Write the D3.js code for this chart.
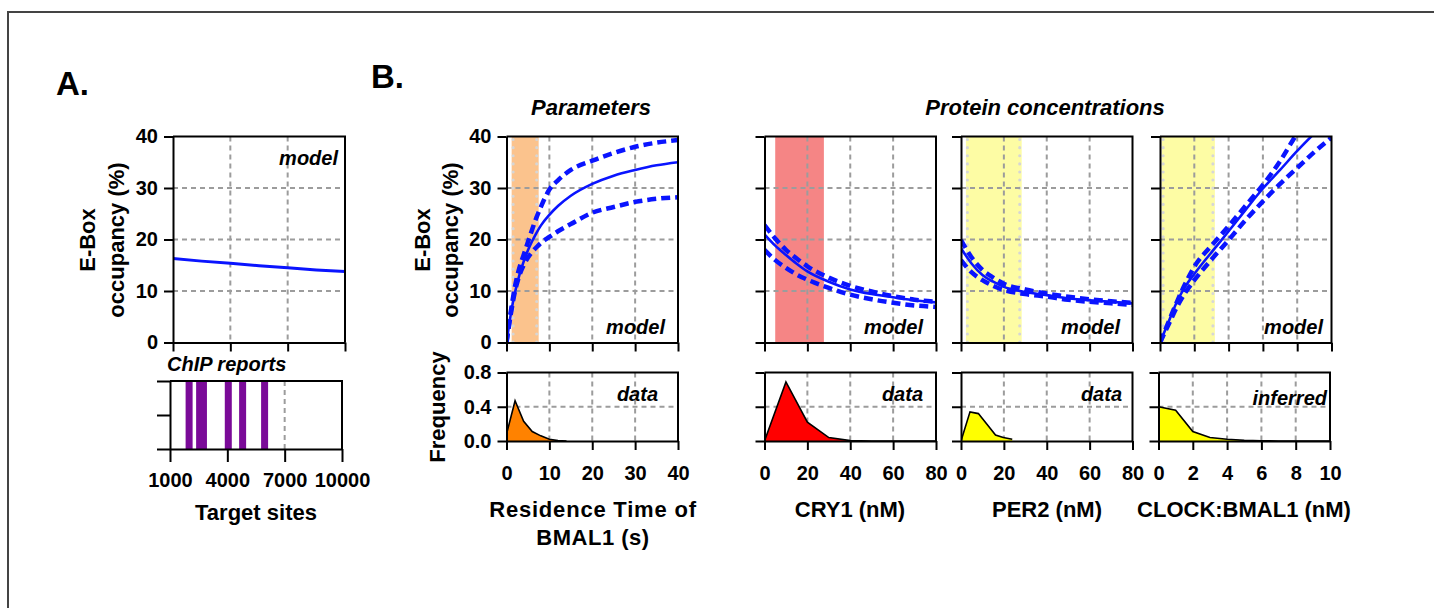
<!DOCTYPE html>
<html><head><meta charset="utf-8">
<script src="https://cdn.jsdelivr.net/npm/d3@7"></script>
<style>
body{margin:0;background:#fff;}
svg text{font-family:"Liberation Sans",Arial,sans-serif;font-weight:bold;fill:#000;}
.tick text{font-size:20px;}
.grid{stroke:#9c9c9c;stroke-width:2;stroke-dasharray:5,4;}
.ax path,.ax line{stroke:#000;stroke-width:2;}
</style></head><body>
<svg id="c" width="1434" height="608"></svg>
<script>
// ---------------- DATA ----------------
// Panel A: model occupancy vs number of target sites
const targetSites = [1000, 2500, 4000, 5500, 7000, 8500, 10000];
const occupancyA  = [16.3, 15.8, 15.4, 14.9, 14.5, 14.1, 13.8];
const chipReports = [2000, 2550, 2750, 4050, 4800, 5950];
const aTicks = [1000, 4000, 7000, 10000];

// Parameters: residence time of BMAL1 (s)
const resTime   = [0, 1, 2, 3, 4, 5, 6, 7, 8, 10, 12, 15, 20, 25, 30, 35, 40];
const resSolid  = [0, 5.5, 9.8, 13.1, 15.7, 17.9, 19.7, 21.3, 22.7, 24.8, 26.5, 28.5, 30.8, 32.4, 33.5, 34.4, 35.0];
const resUpper  = [0, 6.0, 11.0, 14.5, 17.0, 19.5, 22.0, 24.3, 26.3, 29.7, 31.5, 33.5, 35.3, 36.8, 38.0, 38.8, 39.3];
const resLower  = [0, 5.5, 10.0, 13.0, 15.0, 16.5, 17.6, 18.5, 19.3, 20.5, 21.6, 23.0, 25.2, 26.3, 27.3, 27.9, 28.2];
const resBand   = [1.2, 7.5];
const resHistX  = [0, 2, 4, 6, 8, 10, 12, 14];
const resHistY  = [0.08, 0.47, 0.23, 0.11, 0.06, 0.02, 0.005, 0];

// CRY1 (nM)
const cryX      = [0, 5, 10, 15, 20, 30, 40, 50, 60, 70, 80];
const crySolid  = [21.0, 18.8, 17.0, 15.3, 13.8, 11.8, 10.3, 9.4, 8.8, 8.2, 7.8];
const cryUpper  = [22.8, 20.2, 18.0, 16.3, 14.8, 12.6, 11.0, 9.9, 9.0, 8.3, 7.9];
const cryLower  = [18.0, 16.0, 14.5, 13.2, 12.2, 10.6, 9.3, 8.4, 7.7, 7.2, 6.9];
const cryBand   = [5, 27.7];
const cryHistX  = [0, 10, 20, 30, 40, 50, 60, 70, 80];
const cryHistY  = [0, 0.69, 0.22, 0.04, 0.005, 0, 0, 0, 0];

// PER2 (nM)
const perX      = [0, 5, 10, 15, 20, 30, 40, 50, 60, 70, 80];
const perSolid  = [18.3, 15.3, 13.1, 11.8, 10.8, 9.8, 9.2, 8.6, 8.2, 7.9, 7.6];
const perUpper  = [19.9, 16.5, 14.1, 12.6, 11.4, 10.3, 9.5, 8.9, 8.4, 8.0, 7.7];
const perLower  = [16.0, 13.6, 12.1, 11.0, 10.2, 9.4, 8.9, 8.3, 7.9, 7.6, 7.3];
const perBand   = [2.3, 28.3];
const perHistX  = [0, 4.2, 8.1, 12.3, 16.1, 19.7, 23.9];
const perHistY  = [0, 0.34, 0.32, 0.19, 0.07, 0.04, 0.02];

// CLOCK:BMAL1 (nM)
const clkX      = [0, 0.5, 1, 1.5, 2, 3, 4, 5, 6, 7, 8, 9, 10];
const clkSolid  = [0, 4.0, 8.0, 11.0, 13.3, 17.5, 21.6, 25.8, 29.9, 33.5, 37.2, 40.6, 43.8];
const clkUpper  = [0, 4.0, 8.0, 11.6, 14.7, 18.8, 22.6, 26.6, 30.6, 35.2, 40.6, 45.0, 49.0];
const clkLower  = [0, 3.5, 7.0, 9.8, 12.1, 16.1, 19.9, 23.8, 27.4, 30.8, 33.9, 37.0, 39.8];
const clkBand   = [0.1, 3.2];
const clkHistX  = [0, 1, 2, 3, 4, 5, 6, 7, 8, 9, 10];
const clkHistY  = [0.40, 0.36, 0.11, 0.04, 0.02, 0.008, 0.003, 0, 0, 0, 0];

const occTicks  = [0, 10, 20, 30, 40];
const freqTicks = [0, 0.4, 0.8];
const resTicks  = [0, 10, 20, 30, 40];
const concTicks = [0, 20, 40, 60, 80];
const clkTicks  = [0, 2, 4, 6, 8, 10];

// ---------------- DRAW ----------------
const svg = d3.select("#c");
const defs = svg.append("defs");
const BLUE = "#0a14ff";

// outer frame
svg.append("path").attr("d","M8,608V12H1434").attr("fill","none").attr("stroke","#444").attr("stroke-width",2);

function panel(c){
  const x = d3.scaleLinear().domain(c.xDomain).range([c.left, c.right]);
  const y = d3.scaleLinear().domain(c.yDomain).range([c.bottom, c.top]);
  defs.append("clipPath").attr("id", c.id).append("rect")
    .attr("x", c.left).attr("y", c.top).attr("width", c.right - c.left).attr("height", c.bottom - c.top);
  const g = svg.append("g");
  const band = g.append("g"), grid = g.append("g"), data = g.append("g").attr("clip-path", `url(#${c.id})`), axes = g.append("g");
  grid.selectAll("line.v").data(c.xGrid || []).join("line").attr("class","grid")
    .attr("x1", d => x(d)).attr("x2", d => x(d)).attr("y1", c.top).attr("y2", c.bottom);
  grid.selectAll("line.h").data(c.yGrid || []).join("line").attr("class","grid")
    .attr("y1", d => y(d)).attr("y2", d => y(d)).attr("x1", c.left).attr("x2", c.right);
  const ax = d3.axisBottom(x).tickValues(c.xTicks).tickSize(c.xTick || 9).tickSizeOuter(0).tickPadding(c.xPad || 16)
    .tickFormat(c.showX ? (c.xFmt || d3.format("d")) : "");
  axes.append("g").attr("class","ax").attr("transform", `translate(0,${c.bottom})`).call(ax);
  const ay = d3.axisLeft(y).tickValues(c.yTicks).tickSize(c.yTick || 9).tickSizeOuter(0).tickPadding(6)
    .tickFormat(c.showY ? (c.yFmt || d3.format("d")) : "");
  axes.append("g").attr("class","ax").attr("transform", `translate(${c.left},0)`).call(ay);
  axes.append("path").attr("d", `M${c.left},${c.top}H${c.right}V${c.bottom}`)
    .attr("fill","none").attr("stroke","#000").attr("stroke-width",2);
  return {x, y, band, data, axes, c};
}

function drawBand(p, range, color, dots){
  p.band.append("rect").attr("x", p.x(range[0])).attr("width", p.x(range[1]) - p.x(range[0]))
    .attr("y", p.c.top).attr("height", p.c.bottom - p.c.top).attr("fill", color);
  if (dots){
    p.band.selectAll("line.dot").data(range).join("line")
      .attr("x1", (d,i) => p.x(d) + (i ? -2 : 1.5)).attr("x2", (d,i) => p.x(d) + (i ? -2 : 1.5))
      .attr("y1", p.c.top + 3).attr("y2", p.c.bottom)
      .attr("stroke", "#d6d6d6").attr("stroke-width", 3).attr("stroke-linecap","round").attr("stroke-dasharray","0.1,8");
  }
}

function drawCurves(p, xs, solid, upper, lower){
  const line = d3.line().x(d => p.x(d[0])).y(d => p.y(d[1])).curve(d3.curveMonotoneX);
  [upper, lower].forEach(arr => {
    p.data.append("path").attr("d", line(xs.map((v,i) => [v, arr[i]])))
      .attr("fill","none").attr("stroke", BLUE).attr("stroke-width", 4.5).attr("stroke-dasharray","9,5");
  });
  p.data.append("path").attr("d", line(xs.map((v,i) => [v, solid[i]])))
    .attr("fill","none").attr("stroke", BLUE).attr("stroke-width", 2.6);
}

function drawHist(p, xs, ys, color){
  const pts = xs.map((v,i) => [v, ys[i]]);
  const area = d3.area().x(d => p.x(d[0])).y0(p.y(0)).y1(d => p.y(d[1]));
  p.data.append("path").attr("d", area(pts)).attr("fill", color);
  p.data.append("path").attr("d", d3.line().x(d => p.x(d[0])).y(d => p.y(d[1]))(pts))
    .attr("fill","none").attr("stroke","#000").attr("stroke-width",1.6);
}

function label(txt, x, y, size, anchor, italic, ls){
  return svg.append("text").attr("x", x).attr("y", y).attr("font-size", size)
    .attr("text-anchor", anchor || "middle").attr("font-style", italic ? "italic" : null)
    .attr("letter-spacing", ls || null).text(txt);
}
function vlabel(txt, cx, cy, size){
  svg.append("text").attr("transform", `translate(${cx},${cy}) rotate(-90)`).attr("dy","0.35em")
    .attr("font-size", size).attr("text-anchor","middle").text(txt);
}

// ---- Panel A ----
const pA = panel({id:"cA", left:173, right:345, top:136.5, bottom:342.5, xDomain:[1000,10000], yDomain:[0,40],
  xTicks:aTicks, yTicks:occTicks, xGrid:[4000,7000], yGrid:[10,20,30], showX:false, showY:true});
pA.data.append("path").attr("d", d3.line().x(d=>pA.x(d[0])).y(d=>pA.y(d[1]))(targetSites.map((v,i)=>[v, occupancyA[i]])))
  .attr("fill","none").attr("stroke", BLUE).attr("stroke-width", 3);

const pA2 = panel({id:"cA2", left:170, right:342, top:381, bottom:449, xDomain:[1000,10000], yDomain:[0,1],
  xTicks:aTicks, yTicks:[0,0.5,1], xGrid:[4000,7000], yGrid:[], showX:true, showY:false, xTick:13, yTick:13, xPad:11});
pA2.data.selectAll("rect").data(chipReports).join("rect")
  .attr("x", d => pA2.x(d) - 3.5).attr("width", 7).attr("y", pA2.y(1)).attr("height", pA2.y(0) - pA2.y(1))
  .attr("fill", "#7a0a98");

// ---- Panel B: Parameters ----
const pP = panel({id:"cP", left:506.5, right:678, top:136.5, bottom:342.5, xDomain:[0,40], yDomain:[0,40],
  xTicks:resTicks, yTicks:occTicks, xGrid:[10,20,30], yGrid:[10,20,30], showX:false, showY:true});
drawBand(pP, resBand, "#fbc38d", true);
drawCurves(pP, resTime, resSolid, resUpper, resLower);
const pPh = panel({id:"cPh", left:506.5, right:678, top:372.5, bottom:441, xDomain:[0,40], yDomain:[0,0.8],
  xTicks:resTicks, yTicks:freqTicks, xGrid:[10,20,30], yGrid:[0.4], showX:true, showY:true, yFmt:d3.format(".1f")});
drawHist(pPh, resHistX, resHistY, "#ff8200");

// ---- CRY1 ----
const pC = panel({id:"cC", left:764.5, right:936, top:136.5, bottom:342.5, xDomain:[0,80], yDomain:[0,40],
  xTicks:concTicks, yTicks:occTicks, xGrid:[20,40,60], yGrid:[10,20,30], showX:false, showY:false});
drawBand(pC, cryBand, "#f58585", false);
drawCurves(pC, cryX, crySolid, cryUpper, cryLower);
const pCh = panel({id:"cCh", left:764.5, right:936, top:372.5, bottom:441, xDomain:[0,80], yDomain:[0,0.8],
  xTicks:concTicks, yTicks:freqTicks, xGrid:[20,40,60], yGrid:[0.4], showX:true, showY:false});
drawHist(pCh, cryHistX, cryHistY, "#ff0000");

// ---- PER2 ----
const pE = panel({id:"cE", left:961, right:1132.5, top:136.5, bottom:342.5, xDomain:[0,80], yDomain:[0,40],
  xTicks:concTicks, yTicks:occTicks, xGrid:[20,40,60], yGrid:[10,20,30], showX:false, showY:false});
drawBand(pE, perBand, "#fdfca4", true);
drawCurves(pE, perX, perSolid, perUpper, perLower);
const pEh = panel({id:"cEh", left:961, right:1132.5, top:372.5, bottom:441, xDomain:[0,80], yDomain:[0,0.8],
  xTicks:concTicks, yTicks:freqTicks, xGrid:[20,40,60], yGrid:[0.4], showX:true, showY:false});
drawHist(pEh, perHistX, perHistY, "#ffff00");

// ---- CLOCK:BMAL1 ----
const pK = panel({id:"cK", left:1160, right:1331.5, top:136.5, bottom:342.5, xDomain:[0,10], yDomain:[0,40],
  xTicks:clkTicks, yTicks:occTicks, xGrid:[2,4,6,8], yGrid:[10,20,30], showX:false, showY:false});
drawBand(pK, clkBand, "#fdfca4", true);
drawCurves(pK, clkX, clkSolid, clkUpper, clkLower);
const pKh = panel({id:"cKh", left:1158.5, right:1330, top:372.5, bottom:441, xDomain:[0,10], yDomain:[0,0.8],
  xTicks:clkTicks, yTicks:freqTicks, xGrid:[2,4,6,8], yGrid:[0.4], showX:true, showY:false});
drawHist(pKh, clkHistX, clkHistY, "#ffff00");

// ---- Text ----
label("A.", 56, 95, 33, "start");
label("B.", 371, 88, 33, "start");
label("Parameters", 591, 115, 22, "middle", true);
label("Protein concentrations", 1045, 115, 22, "middle", true);

label("model", 338, 165, 20, "end", true);
label("ChIP reports", 167, 371, 20, "start", true);
label("Target sites", 256, 520, 22);
vlabel("E-Box", 87, 240, 22);
vlabel("occupancy (%)", 116, 240, 22);

vlabel("E-Box", 422, 240, 22);
vlabel("occupancy (%)", 450, 240, 22);
vlabel("Frequency", 437, 407, 22);

label("model", 665, 334, 20, "end", true);
label("model", 923, 334, 20, "end", true);
label("model", 1120, 334, 20, "end", true);
label("model", 1323, 334, 20, "end", true);
label("data", 658, 401, 20, "end", true);
label("data", 923, 401, 20, "end", true);
label("data", 1122, 401, 20, "end", true);
label("inferred", 1327, 405, 20, "end", true);

label("Residence Time of", 593, 517, 22, "middle", false, 0.8);
label("BMAL1 (s)", 593, 545, 22, "middle", false, 0.5);
label("CRY1 (nM)", 850, 517, 22);
label("PER2 (nM)", 1047, 517, 22);
label("CLOCK:BMAL1 (nM)", 1244, 517, 22);
</script>
</body></html>
